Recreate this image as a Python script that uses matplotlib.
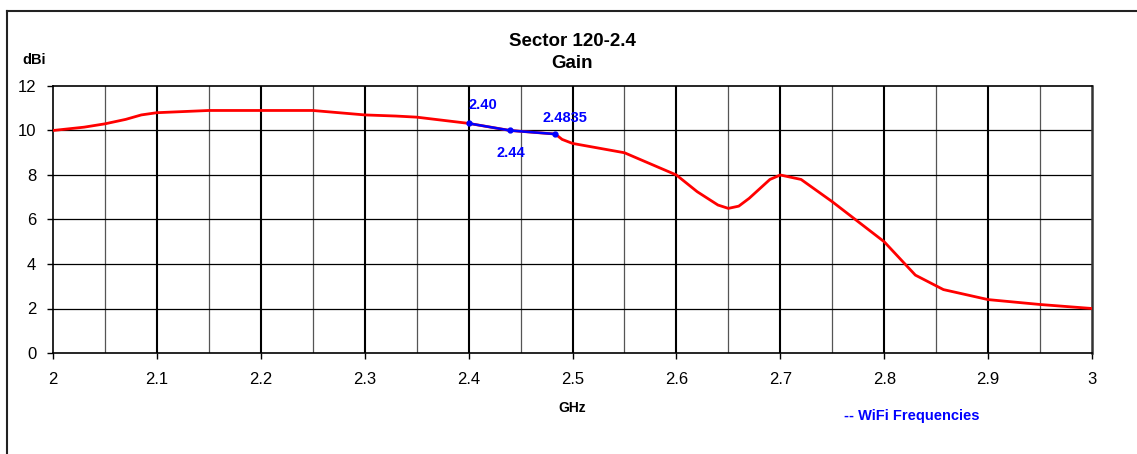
import numpy as np
import matplotlib
matplotlib.use('Agg')
import matplotlib.pyplot as plt
from matplotlib.lines import Line2D

plt.rcParams['font.family'] = ['Liberation Sans', 'DejaVu Sans']

# gain curve
ghz = [2.0, 2.03, 2.05, 2.07, 2.085, 2.1, 2.15, 2.2, 2.25, 2.3, 2.33, 2.35,
       2.4, 2.44, 2.4835, 2.49, 2.5, 2.55, 2.6, 2.62, 2.64, 2.65, 2.66, 2.67,
       2.69, 2.7, 2.72, 2.75, 2.8, 2.83, 2.857, 2.9, 2.95, 3.0]
gain = [10.0, 10.15, 10.3, 10.5, 10.7, 10.8, 10.9, 10.9, 10.9, 10.7, 10.65, 10.6,
        10.32, 10.0, 9.84, 9.6, 9.42, 9.0, 8.0, 7.25, 6.65, 6.5, 6.6, 6.95,
        7.8, 8.0, 7.8, 6.8, 5.0, 3.5, 2.85, 2.4, 2.18, 2.0]

# wifi band
wifi_ghz = [2.40, 2.44, 2.4835]
wifi_gain = [10.32, 10.0, 9.84]
wifi_labels = ['2.40', '2.44', '2.4835']

fig = plt.figure(figsize=(11.37, 4.54), dpi=100)
ax = fig.add_axes([53 / 1137, 101 / 454, (1092 - 53) / 1137, (353 - 86) / 454])

ax.set_xlim(2, 3)
ax.set_ylim(0, 12)
ax.set_xticks(np.arange(2, 3.001, 0.1))
ax.set_xticklabels(['2', '2.1', '2.2', '2.3', '2.4', '2.5', '2.6', '2.7', '2.8', '2.9', '3'])
ax.set_xticks(np.arange(2.05, 3.0, 0.1), minor=True)
ax.set_yticks(np.arange(0, 13, 2))
ax.tick_params(axis='both', which='major', labelsize=12, length=4, width=1,
               direction='out')
ax.tick_params(axis='x', which='major', pad=10)
ax.tick_params(axis='y', which='major', pad=8)
ax.tick_params(axis='x', which='minor', length=0)

# grid lines
for x in np.arange(2.1, 3.0, 0.1):
    ax.axvline(x, color='black', lw=1.5, zorder=1)
for x in np.arange(2.05, 3.0, 0.1):
    ax.axvline(x, color='#555555', lw=0.9, zorder=1)
for y in range(2, 12, 2):
    ax.axhline(y, color='black', lw=0.9, zorder=1)

for s in ['left', 'bottom', 'top']:
    ax.spines[s].set_linewidth(1.2)
ax.spines['right'].set_linewidth(1.8)
ax.spines['right'].set_color('#333333')

ax.plot(ghz, gain, color='red', lw=2, zorder=3)
ax.plot(wifi_ghz, wifi_gain, color='blue', lw=1.8, marker='o', ms=3.5, zorder=4)

# label positions for the wifi points (x, y, alignment)
label_pos = [(2.40, 11.15, 'left'), (2.4405, 9.0, 'center'), (2.4928, 10.56, 'center')]
for (x, y, ha), lab in zip(label_pos, wifi_labels):
    ax.text(x, y, lab, color='blue', fontsize=10.5, fontweight='bold',
            ha=ha, va='center')

fig.text(572 / 1137, 1 - 41 / 454, 'Sector 120-2.4', ha='center', va='center',
         fontsize=13.5, fontweight='bold')
fig.text(572 / 1137, 1 - 63 / 454, 'Gain', ha='center', va='center',
         fontsize=13.5, fontweight='bold')
fig.text(34 / 1137, 1 - 60 / 454, 'dBi', ha='center', va='center',
         fontsize=10.5, fontweight='bold')
fig.text(572 / 1137, 1 - 408 / 454, 'GHz', ha='center', va='center',
         fontsize=10, fontweight='bold')
fig.text(912 / 1137, 1 - 416 / 454, '-- WiFi Frequencies', ha='center', va='center',
         fontsize=10.5, fontweight='bold', color='blue')

# outer chart frame
fig.add_artist(Line2D([7 / 1137, 7 / 1137], [0, 1 - 11 / 454], color='#222222', lw=1.5))
fig.add_artist(Line2D([7 / 1137, 1], [1 - 11 / 454, 1 - 11 / 454], color='#222222', lw=1.5))

fig.savefig('out.png', dpi=100, facecolor='white')
